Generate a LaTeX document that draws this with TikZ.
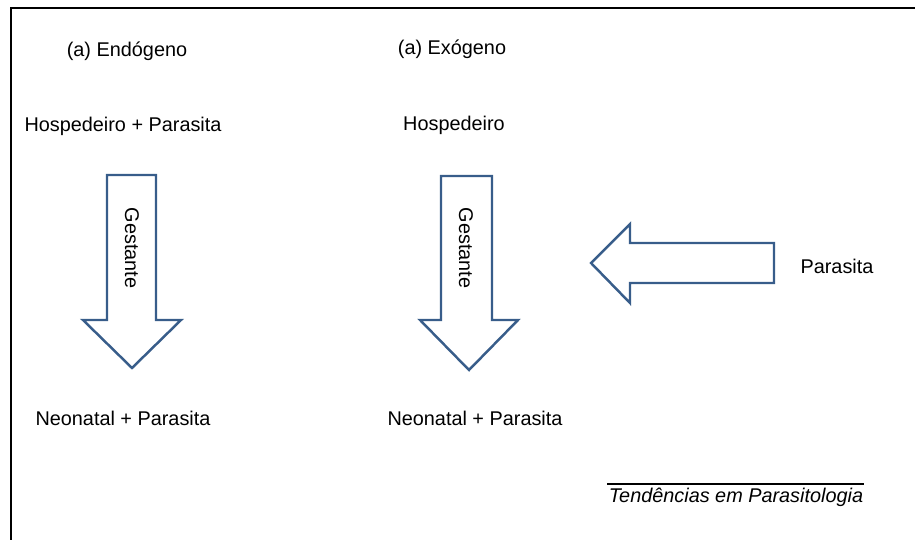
\documentclass[tikz,border=0pt]{standalone}
\usepackage{fontspec}
\setmainfont{Liberation Sans}
\usetikzlibrary{shapes}
\usetikzlibrary{arrows}
\definecolor{setaazul}{RGB}{56,93,138}

\begin{document}
\begin{tikzpicture}[x=0.02cm,y=-0.02cm]
			\tikzstyle{texto}=[font=\fontsize{11.3}{13}\selectfont, inner sep=0pt]
			\tikzstyle{seta}=[draw=setaazul, line width=1.4pt, line join=miter, fill=white]
			\useasboundingbox (0,0) rectangle (915,540);
			\clip (0,0) rectangle (915,540);
			\draw[line width=1.5pt] (11,8) rectangle (940,570);
			
			% endogeno
			\node[texto] (titEnd) at (127,51) {(a) Endógeno};
			\node[texto] (hospEnd) at (123,126) {Hospedeiro + Parasita};
			\draw[seta] (107,175) -- (156,175) -- (156,320) -- (181,320) -- (132,368) -- (83,320) -- (107,320) -- cycle;
			\node[texto, rotate=-90] (gestEnd) at (132,248) {Gestante};
			\node[texto] (neoEnd) at (123,418) {Neonatal + Parasita};
			
			% exogeno
			\node[texto] (titExo) at (452,49) {(a) Exógeno};
			\node[texto] (hospExo) at (454,125) {Hospedeiro};
			\draw[seta] (441,176) -- (492,176) -- (492,320) -- (518,320) -- (469,370) -- (420,320) -- (441,320) -- cycle;
			\node[texto, rotate=-90] (gestExo) at (466,248) {Gestante};
			\node[texto] (neoExo) at (475,418) {Neonatal + Parasita};
			\draw[seta] (774,243) -- (774,283) -- (630,283) -- (630,303) -- (591,263) -- (630,224) -- (630,243) -- cycle;
			\node[texto] (paras) at (837,266) {Parasita};
			
			% fonte
			\node[texto, font=\fontsize{11.3}{13}\selectfont\itshape] (fonte) at (736,497) {Tendências em Parasitologia};
			\draw[line width=0.6pt] (607,484) -- (864,484);
			
\end{tikzpicture}
\end{document}
